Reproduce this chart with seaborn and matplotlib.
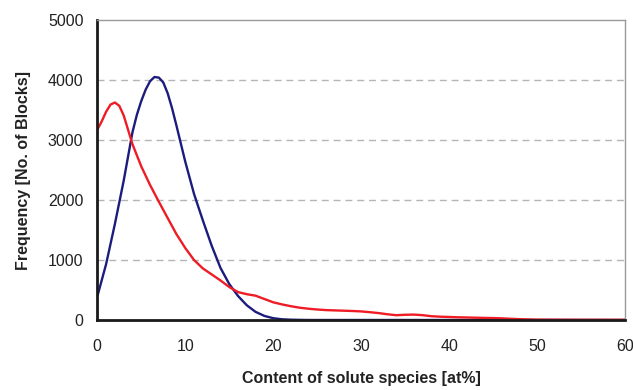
import matplotlib
matplotlib.use("Agg")
import matplotlib.pyplot as plt
import seaborn as sns
import pandas as pd

# Frequency distributions of solute content per block
x_blue = [0, 1, 2, 3, 4, 4.5, 5, 5.5, 6, 6.5, 7, 7.5, 8, 8.5, 9, 10, 11, 12,
          13, 14, 15, 16, 17, 18, 19, 20, 21, 22, 23, 24, 26, 30, 40, 50, 60]
freq_blue = [390, 930, 1600, 2320, 3130, 3420, 3650, 3840, 3980, 4050, 4040,
             3960, 3780, 3530, 3240, 2640, 2100, 1660, 1240, 870, 600, 400,
             245, 135, 68, 30, 12, 5, 2, 0, 0, 0, 0, 0, 0]

x_red = [0, 0.5, 1, 1.5, 2, 2.5, 3, 3.5, 4, 5, 6, 7, 8, 9, 10, 11, 12, 13,
         14, 15, 16, 17, 18, 19, 20, 21, 22, 23, 24, 25, 26, 27, 28, 29, 30,
         31, 32, 33, 34, 35, 36, 37, 38, 39, 40, 41, 42, 43, 44, 45, 46, 47,
         48, 49, 50, 52, 55, 60]
freq_red = [3170, 3310, 3470, 3590, 3625, 3570, 3410, 3170, 2930, 2560, 2250,
            1970, 1700, 1430, 1200, 1000, 860, 760, 660, 550, 465, 430, 405,
            350, 295, 260, 230, 205, 188, 175, 165, 160, 155, 150, 143, 130,
            115, 95, 80, 87, 90, 80, 63, 55, 50, 45, 42, 38, 35, 32, 28, 20,
            14, 10, 6, 5, 4, 3]

y_ticks = [0, 1000, 2000, 3000, 4000, 5000]
x_ticks = [0, 10, 20, 30, 40, 50, 60]

df = pd.concat([
    pd.DataFrame({"content": x_blue, "freq": freq_blue, "series": "A"}),
    pd.DataFrame({"content": x_red, "freq": freq_red, "series": "B"}),
])

sns.set_theme(style="white")
plt.rcParams["font.family"] = ["Liberation Sans", "DejaVu Sans"]

fig = plt.figure(figsize=(6.33, 3.90), dpi=100)
ax = fig.add_axes([0.1537, 0.1795, 0.8337, 0.7692])

sns.lineplot(data=df, x="content", y="freq", hue="series",
             palette={"A": "#1c1c7c", "B": "#ee1c24"},
             linewidth=1.7, legend=False, ax=ax, sort=False)

ax.set_xlim(0, 60)
ax.set_ylim(0, 5000)
ax.set_xticks(x_ticks)
ax.set_yticks(y_ticks)
ax.set_xticklabels([str(v) for v in x_ticks], fontsize=11.5, color="#222222")
ax.set_yticklabels([str(v) for v in y_ticks], fontsize=11.5, color="#222222")

for y in y_ticks[1:-1]:
    ax.axhline(y, color="#b5b5b5", linewidth=1.0, dashes=(5, 3.5), zorder=0)

for side in ("left", "bottom"):
    ax.spines[side].set_color("#1a1a1a")
    ax.spines[side].set_linewidth(2.0)
for side in ("top", "right"):
    ax.spines[side].set_color("#999999")
    ax.spines[side].set_linewidth(1.0)

ax.tick_params(axis="both", direction="out", length=5, width=2,
               color="#1a1a1a", pad=5)
ax.tick_params(axis="x", pad=9)

ax.set_xlabel("Content of solute species [at%]", fontsize=11.5,
              fontweight="bold", color="#222222", labelpad=12)
ax.set_ylabel("Frequency [No. of Blocks]", fontsize=11.5,
              fontweight="bold", color="#222222", labelpad=12)

fig.savefig("out.png", dpi=100)
